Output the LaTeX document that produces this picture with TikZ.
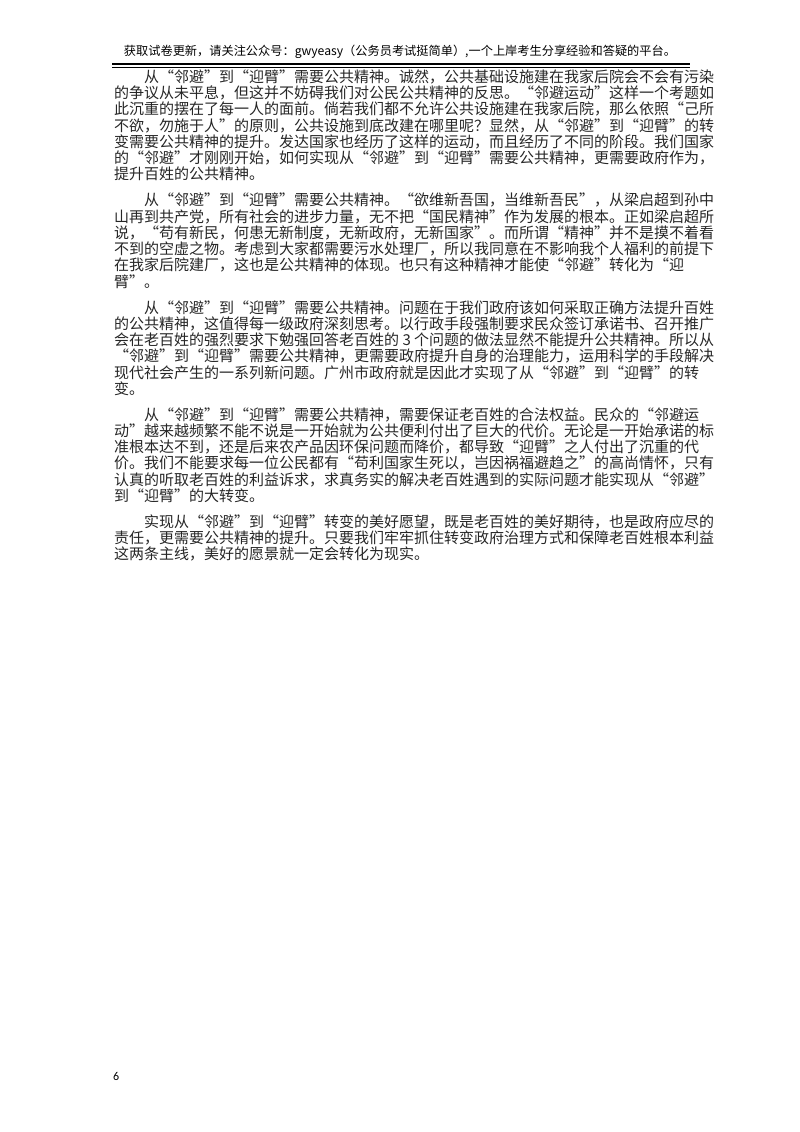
\documentclass[tikz,border=0pt]{standalone}
\usepackage{fontspec}
\setmainfont{Carlito}
\newfontfamily\cjk{Noto Sans CJK SC}
\begin{document}
\begin{tikzpicture}[x=1pt,y=-1pt,
  ln/.style={anchor=west,inner sep=0pt,font=\cjk\fontsize{15}{15}\selectfont,text=black!85}]
\useasboundingbox (0,0) rectangle (800,1132);
\node[anchor=center,inner sep=0pt,font=\cjk\fontsize{12.2}{12.2}\selectfont] (hd) at (400,52) {获取试卷更新，请关注公众号：gwyeasy（公务员考试挺简单）,一个上岸考生分享经验和答疑的平台。};
\draw[line width=2pt] (112,64) -- (690,64);
\draw[line width=0.6pt] (112,67.5) -- (690,67.5);
\def\L{16.2}
\foreach \t [count=\i from 0] in {
{\hspace*{30pt}从“邻避”到“迎臂”需要公共精神。诚然，公共基础设施建在我家后院会不会有污染},
{的争议从未平息，但这并不妨碍我们对公民公共精神的反思。“邻避运动”这样一个考题如},
{此沉重的摆在了每一人的面前。倘若我们都不允许公共设施建在我家后院，那么依照“己所},
{不欲，勿施于人”的原则，公共设施到底改建在哪里呢？显然，从“邻避”到“迎臂”的转},
{变需要公共精神的提升。发达国家也经历了这样的运动，而且经历了不同的阶段。我们国家},
{的“邻避”才刚刚开始，如何实现从“邻避”到“迎臂”需要公共精神，更需要政府作为，},
{提升百姓的公共精神。}}
  \node[ln] (p1l\i) at (114,{77+\i*\L}) {\t};
\foreach \t [count=\i from 0] in {
{\hspace*{30pt}从“邻避”到“迎臂”需要公共精神。“欲维新吾国，当维新吾民”，从梁启超到孙中},
{山再到共产党，所有社会的进步力量，无不把“国民精神”作为发展的根本。正如梁启超所},
{说，“苟有新民，何患无新制度，无新政府，无新国家”。而所谓“精神”并不是摸不着看},
{不到的空虚之物。考虑到大家都需要污水处理厂，所以我同意在不影响我个人福利的前提下},
{在我家后院建厂，这也是公共精神的体现。也只有这种精神才能使“邻避”转化为“迎},
{臂”。}}
  \node[ln] (p2l\i) at (114,{77+7*\L+10+\i*\L}) {\t};
\foreach \t [count=\i from 0] in {
{\hspace*{30pt}从“邻避”到“迎臂”需要公共精神。问题在于我们政府该如何采取正确方法提升百姓},
{的公共精神，这值得每一级政府深刻思考。以行政手段强制要求民众签订承诺书、召开推广},
{会在老百姓的强烈要求下勉强回答老百姓的 3 个问题的做法显然不能提升公共精神。所以从},
{“邻避”到“迎臂”需要公共精神，更需要政府提升自身的治理能力，运用科学的手段解决},
{现代社会产生的一系列新问题。广州市政府就是因此才实现了从“邻避”到“迎臂”的转},
{变。}}
  \node[ln] (p3l\i) at (114,{77+13*\L+20+\i*\L}) {\t};
\foreach \t [count=\i from 0] in {
{\hspace*{30pt}从“邻避”到“迎臂”需要公共精神，需要保证老百姓的合法权益。民众的“邻避运},
{动”越来越频繁不能不说是一开始就为公共便利付出了巨大的代价。无论是一开始承诺的标},
{准根本达不到，还是后来农产品因环保问题而降价，都导致“迎臂”之人付出了沉重的代},
{价。我们不能要求每一位公民都有“苟利国家生死以，岂因祸福避趋之”的高尚情怀，只有},
{认真的听取老百姓的利益诉求，求真务实的解决老百姓遇到的实际问题才能实现从“邻避”},
{到“迎臂”的大转变。}}
  \node[ln] (p4l\i) at (114,{77+19*\L+30+\i*\L}) {\t};
\foreach \t [count=\i from 0] in {
{\hspace*{30pt}实现从“邻避”到“迎臂”转变的美好愿望，既是老百姓的美好期待，也是政府应尽的},
{责任，更需要公共精神的提升。只要我们牢牢抓住转变政府治理方式和保障老百姓根本利益},
{这两条主线，美好的愿景就一定会转化为现实。}}
  \node[ln] (p5l\i) at (114,{77+25*\L+40+\i*\L}) {\t};
\node[anchor=west,inner sep=0pt,font=\fontsize{12}{12}\selectfont] (pg) at (113,1076) {6};
\end{tikzpicture}
\end{document}
